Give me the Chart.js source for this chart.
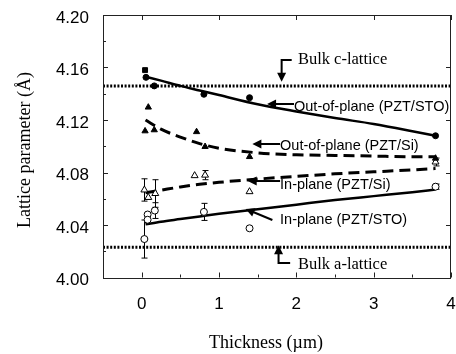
<!DOCTYPE html>
<html>
<head>
<meta charset="utf-8">
<script src="https://cdn.jsdelivr.net/npm/chart.js@4.4.1/dist/chart.umd.min.js"></script>
<style>
  html, body { margin: 0; padding: 0; background: #fff; }
  #chart { display: block; }
</style>
</head>
<body>
<canvas id="chart" width="456" height="354"></canvas>
<script>
// ---- values ----
// out-of-plane, PZT/STO (filled circles, first one a square)
const stoOutX = [0.044, 0.056, 0.163, 0.805, 1.395, 3.80];
const stoOutY = [4.158, 4.1525, 4.146, 4.1396, 4.137, 4.108];
// out-of-plane, PZT/Si (filled triangles)
const siOutX = [0.086, 0.044, 0.163, 0.71, 0.82, 1.395, 3.80];
const siOutY = [4.1297, 4.1116, 4.1124, 4.111, 4.0997, 4.092, 4.0908];
// in-plane, PZT/Si (open triangles) + error
const siInX = [0.035, 0.086, 0.176, 0.685, 0.82, 1.395, 3.80];
const siInY = [4.0667, 4.061, 4.064, 4.0776, 4.078, 4.0654, 4.088];
const siInErr = [0.0085, 0, 0.0105, 0, 0.0035, 0, 0.003];
// in-plane, PZT/STO (open circles) + error
const stoInX = [0.035, 0.077, 0.077, 0.17, 0.805, 1.395, 3.80];
const stoInY = [4.0293, 4.048, 4.044, 4.051, 4.050, 4.0375, 4.0692];
const stoInErr = [0.0145, 0, 0, 0.006, 0.0065, 0, 0.002];

// guide curves
const fitX = [0.05, 0.25, 0.5, 0.75, 1.0, 1.5, 2.0, 2.5, 3.0, 3.5, 3.8];
const stoOutFit = [4.153, 4.150, 4.146, 4.1425, 4.139, 4.132, 4.1265, 4.1215, 4.117, 4.1115, 4.108];
const siOutFit = [4.120, 4.113, 4.107, 4.102, 4.0985, 4.095, 4.0935, 4.093, 4.0925, 4.092, 4.092];
const siInFit = [4.0645, 4.0665, 4.069, 4.071, 4.0725, 4.075, 4.077, 4.079, 4.0805, 4.082, 4.083];
const stoInFit = [4.0405, 4.0425, 4.0445, 4.0465, 4.0485, 4.052, 4.0555, 4.059, 4.062, 4.065, 4.067];

// bulk reference values
const bulkC = 4.146;
const bulkA = 4.023;

// axes
const xRange = [-0.5, 4.0];
const yRange = [4.00, 4.20];
const xTickVals = [0, 1, 2, 3, 4];
const xMinorVals = [0.5, 1.5, 2.5, 3.5];
const yTickVals = [4.00, 4.04, 4.08, 4.12, 4.16, 4.20];
const yMinorVals = [4.02, 4.06, 4.10, 4.14, 4.18];

const SANS = "'Liberation Sans', Arial, sans-serif";
const SERIF = "'Liberation Serif', 'Times New Roman', serif";

const pts = (xs, ys) => xs.map((x, i) => ({ x: x, y: ys[i] }));

// annotations (text + arrow), in data units
const notes = [
    { text: "Bulk c-lattice", font: "16.5px " + SERIF, x: 2.02, y: 4.1657,
      arrow: [[1.94, 4.1657], [1.81, 4.1657], [1.81, 4.1515]] },
    { text: "Out-of-plane (PZT/STO)", font: "14.5px " + SANS, x: 1.97, y: 4.1299,
      arrow: [[1.97, 4.1322], [1.66, 4.1322]] },
    { text: "Out-of-plane (PZT/Si)", font: "14.5px " + SANS, x: 1.79, y: 4.1002,
      arrow: [[1.79, 4.1017], [1.47, 4.1017]] },
    { text: "In-plane (PZT/Si)", font: "14.5px " + SANS, x: 1.79, y: 4.0705,
      arrow: [[1.79, 4.0735], [1.41, 4.0735]] },
    { text: "In-plane (PZT/STO)", font: "14.5px " + SANS, x: 1.79, y: 4.0438,
      arrow: [[1.69, 4.0438], [1.38, 4.0514]] },
    { text: "Bulk a-lattice", font: "16.5px " + SERIF, x: 2.02, y: 4.0095,
      arrow: [[1.92, 4.011], [1.77, 4.011], [1.77, 4.0222]] }
];

function drawArrow(ctx, xs, ys, p) {
    ctx.save();
    ctx.strokeStyle = "#000";
    ctx.fillStyle = "#000";
    ctx.lineWidth = 2;
    ctx.beginPath();
    p.forEach((q, i) => {
        const px = xs.getPixelForValue(q[0]), py = ys.getPixelForValue(q[1]);
        if (i === 0) ctx.moveTo(px, py); else ctx.lineTo(px, py);
    });
    ctx.stroke();
    const a = p[p.length - 2], b = p[p.length - 1];
    const ax = xs.getPixelForValue(a[0]), ay = ys.getPixelForValue(a[1]);
    const bx = xs.getPixelForValue(b[0]), by = ys.getPixelForValue(b[1]);
    const ang = Math.atan2(by - ay, bx - ax);
    ctx.translate(bx, by);
    ctx.rotate(ang);
    ctx.beginPath();
    ctx.moveTo(3, 0);
    ctx.lineTo(-6, -4.5);
    ctx.lineTo(-6, 4.5);
    ctx.closePath();
    ctx.fill();
    ctx.restore();
}

const framePlugin = {
    id: "frame",
    beforeDatasetsDraw(chart) {
        // error bars
        const ctx = chart.ctx, xs = chart.scales.x, ys = chart.scales.y;
        ctx.save();
        ctx.strokeStyle = "#000";
        ctx.lineWidth = 1;
        [[siInX, siInY, siInErr], [stoInX, stoInY, stoInErr]].forEach(([X, Y, E]) => {
            X.forEach((x, i) => {
                if (!E[i]) return;
                const px = Math.round(xs.getPixelForValue(x)) + 0.5;
                const t = ys.getPixelForValue(Y[i] + E[i]);
                const b = ys.getPixelForValue(Y[i] - E[i]);
                ctx.beginPath();
                ctx.moveTo(px, t); ctx.lineTo(px, b);
                ctx.moveTo(px - 3, t); ctx.lineTo(px + 3, t);
                ctx.moveTo(px - 3, b); ctx.lineTo(px + 3, b);
                ctx.stroke();
            });
        });
        ctx.restore();
    },
    afterDraw(chart) {
        const ctx = chart.ctx, a = chart.chartArea;
        const xs = chart.scales.x, ys = chart.scales.y;
        ctx.save();
        ctx.strokeStyle = "#222";
        ctx.lineWidth = 1;
        ctx.strokeRect(Math.round(a.left) + 0.5, Math.round(a.top) + 0.5,
            Math.round(a.right - a.left) - 1, Math.round(a.bottom - a.top));
        ctx.beginPath();
        yTickVals.forEach(v => {
            const py = Math.round(ys.getPixelForValue(v)) + 0.5;
            ctx.moveTo(a.left, py); ctx.lineTo(a.left + 5, py);
            ctx.moveTo(a.right, py); ctx.lineTo(a.right - 5, py);
        });
        yMinorVals.forEach(v => {
            const py = Math.round(ys.getPixelForValue(v)) + 0.5;
            ctx.moveTo(a.left, py); ctx.lineTo(a.left + 3, py);
        });
        xTickVals.forEach(v => {
            const px = Math.round(xs.getPixelForValue(v)) + 0.5;
            ctx.moveTo(px, a.bottom); ctx.lineTo(px, a.bottom - 5);
            ctx.moveTo(px, a.top); ctx.lineTo(px, a.top + 5);
        });
        xMinorVals.forEach(v => {
            const px = Math.round(xs.getPixelForValue(v)) + 0.5;
            ctx.moveTo(px, a.bottom); ctx.lineTo(px, a.bottom - 3);
        });
        ctx.stroke();

        // annotations
        notes.forEach(n => {
            ctx.font = n.font;
            ctx.fillStyle = "#000";
            ctx.textAlign = "left";
            ctx.textBaseline = "middle";
            ctx.fillText(n.text, xs.getPixelForValue(n.x), ys.getPixelForValue(n.y));
            drawArrow(ctx, xs, ys, n.arrow);
        });

        // axis titles
        ctx.font = "18px " + SERIF;
        ctx.textAlign = "center";
        ctx.textBaseline = "middle";
        ctx.fillText("Thickness (\u00b5m)", 266, 343);
        ctx.translate(25, 150);
        ctx.rotate(-Math.PI / 2);
        ctx.fillText("Lattice parameter (\u00c5)", 0, 0);
        ctx.restore();
    }
};

const ctx = document.getElementById("chart").getContext("2d");

new Chart(ctx, {
    type: "scatter",
    data: {
        datasets: [
            // bulk lines
            { data: [{ x: xRange[0], y: bulkC }, { x: xRange[1], y: bulkC }], showLine: true,
              borderColor: "#000", borderWidth: 3, borderDash: [2, 1.6], pointRadius: 0, order: 2 },
            { data: [{ x: xRange[0], y: bulkA }, { x: xRange[1], y: bulkA }], showLine: true,
              borderColor: "#000", borderWidth: 3, borderDash: [2, 1.6], pointRadius: 0, order: 2 },
            // guide curves
            { data: pts(fitX, stoOutFit), showLine: true, borderColor: "#000", borderWidth: 2.5,
              cubicInterpolationMode: "monotone", pointRadius: 0, order: 1 },
            { data: pts(fitX, siOutFit), showLine: true, borderColor: "#000", borderWidth: 3,
              borderDash: [11, 6], cubicInterpolationMode: "monotone", pointRadius: 0, order: 1 },
            { data: pts(fitX, siInFit), showLine: true, borderColor: "#000", borderWidth: 3,
              borderDash: [11, 6], cubicInterpolationMode: "monotone", pointRadius: 0, order: 1 },
            { data: pts(fitX, stoInFit), showLine: true, borderColor: "#000", borderWidth: 2.5,
              cubicInterpolationMode: "monotone", pointRadius: 0, order: 1 },
            // measured points
            { data: pts(stoOutX, stoOutY), pointStyle: stoOutX.map((_, i) => i === 0 ? "rect" : "circle"),
              pointRadius: stoOutX.map((_, i) => i === 0 ? 3.5 : 3),
              backgroundColor: "#000", borderColor: "#000", borderWidth: 1, order: 0 },
            { data: pts(siOutX, siOutY), pointStyle: "triangle", pointRadius: 3.6,
              backgroundColor: "#000", borderColor: "#000", borderWidth: 1, order: 0 },
            { data: pts(siInX, siInY), pointStyle: "triangle", pointRadius: 4,
              backgroundColor: "#fff", borderColor: "#000", borderWidth: 1, order: 0 },
            { data: pts(stoInX, stoInY), pointStyle: "circle", pointRadius: 3.5,
              backgroundColor: "#fff", borderColor: "#000", borderWidth: 1, order: 0 }
        ]
    },
    options: {
        responsive: false,
        animation: false,
        devicePixelRatio: 1,
        layout: { padding: { left: 0, top: 15, right: 2.7, bottom: 0 } },
        plugins: { legend: { display: false }, tooltip: { enabled: false } },
        scales: {
            x: {
                type: "linear",
                min: xRange[0],
                max: xRange[1],
                afterBuildTicks: s => { s.ticks = xTickVals.map(v => ({ value: v })); },
                afterFit: s => { s.height = 76.5; s.paddingLeft = 0; s.paddingRight = 0; },
                grid: { display: false, drawTicks: false },
                border: { display: false },
                ticks: { color: "#000", padding: 17, maxRotation: 0, font: { family: SANS, size: 17 } }
            },
            y: {
                type: "linear",
                min: yRange[0],
                max: yRange[1],
                afterBuildTicks: s => { s.ticks = yTickVals.map(v => ({ value: v })); },
                afterFit: s => { s.width = 103; s.paddingTop = 0; s.paddingBottom = 0; },
                grid: { display: false, drawTicks: false },
                border: { display: false },
                ticks: { color: "#000", padding: 14, labelOffset: 3,
                         callback: v => v.toFixed(2), font: { family: SANS, size: 17 } }
            }
        }
    },
    plugins: [framePlugin]
});
</script>
</body>
</html>
